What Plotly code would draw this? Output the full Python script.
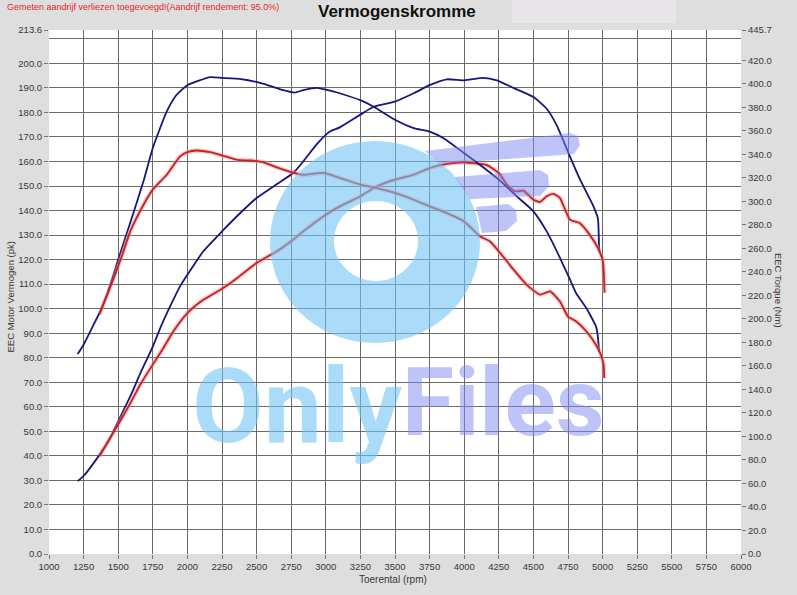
import numpy as np
import plotly.graph_objects as go

# ---------------- data ----------------
rpm_blue_torque = [1207, 1250, 1334, 1370, 1418, 1466, 1500, 1587, 1683, 1750,
                   1851, 1918, 2000, 2166, 2250, 2387, 2500, 2598, 2692, 2776,
                   2837, 2935, 3053, 3106, 3250, 3346, 3500, 3635, 3750, 3851,
                   4000, 4113, 4250, 4380, 4500, 4596, 4692, 4764, 4810, 4882,
                   4952, 4964, 4975]
torque_blue = [170.1, 178.0, 197.8, 206.4, 220.6, 237.5, 250.4, 281.7, 317.2, 345.3,
               376.4, 390.0, 398.7, 405.6, 405.0, 404.0, 401.5, 398.1, 394.6, 392.5,
               394.6, 396.5, 393.5, 391.7, 386.0, 380.4, 369.3, 362.2, 359.3, 353.7,
               340.9, 331.1, 318.4, 304.2, 291.5, 274.4, 251.9, 233.5, 221.6, 209.3,
               193.6, 186.5, 171.9]

rpm_red_torque = [1365, 1420, 1478, 1530, 1587, 1683, 1750, 1851, 1947, 2000,
                  2067, 2163, 2250, 2358, 2454, 2550, 2647, 2750, 2837, 2982,
                  3101, 3250, 3370, 3500, 3635, 3750, 3875, 4000, 4113, 4185,
                  4250, 4356, 4452, 4548, 4620, 4692, 4750, 4810, 4882, 4952,
                  4988, 5007, 5012]
torque_red = [204.1, 220.1, 237.9, 254.6, 274.4, 297.1, 309.9, 322.6, 338.2, 341.8,
              343.2, 341.8, 339.1, 335.3, 334.7, 333.2, 328.8, 324.9, 322.6, 324.1,
              319.9, 314.2, 311.3, 307.1, 301.3, 295.7, 290.0, 282.9, 270.2, 266.0,
              257.5, 242.0, 228.9, 220.6, 223.3, 214.7, 202.0, 197.8, 189.5, 178.0,
              169.4, 161.1, 149.6]

rpm_blue_power = [1207, 1250, 1358, 1442, 1500, 1582, 1666, 1750, 1803, 1875,
                  1947, 2000, 2115, 2250, 2382, 2500, 2647, 2764, 2837, 2931,
                  3029, 3101, 3250, 3346, 3500, 3635, 3750, 3875, 4000, 4137,
                  4236, 4356, 4500, 4596, 4668, 4750, 4834, 4930, 4966, 4974,
                  4978]
power_blue = [29.7, 31.8, 39.9, 47.3, 54.1, 63.6, 74.4, 84.5, 92.0, 100.9,
              109.1, 113.8, 123.4, 131.5, 139.0, 145.1, 150.8, 155.3, 160.0, 166.8,
              172.2, 173.9, 179.1, 182.3, 184.4, 187.8, 191.1, 193.5, 193.1, 194.1,
              193.1, 190.0, 186.3, 181.5, 174.8, 163.9, 153.0, 142.2, 136.8, 125.9,
              123.0]

rpm_red_power = [1365, 1442, 1500, 1582, 1666, 1750, 1827, 1899, 2000, 2115,
                 2250, 2346, 2500, 2647, 2750, 2837, 2982, 3101, 3250, 3370,
                 3500, 3635, 3750, 3875, 4000, 4065, 4161, 4250, 4308, 4368,
                 4428, 4500, 4548, 4596, 4644, 4692, 4764, 4834, 4906, 4966,
                 5002, 5010, 5014]
power_red = [39.9, 47.3, 52.8, 60.9, 69.7, 77.2, 84.0, 90.8, 98.2, 103.6,
             108.1, 111.9, 118.6, 123.4, 127.5, 131.5, 137.6, 141.7, 145.8, 149.9,
             152.6, 154.6, 157.3, 159.0, 159.7, 159.3, 158.6, 155.3, 150.6, 147.8,
             148.1, 144.4, 143.5, 145.8, 146.8, 145.1, 136.3, 134.9, 130.2, 124.8,
             119.3, 113.0, 106.5]

x_ticks = list(range(1000, 6001, 250))
left_ticks = [float(v) for v in range(0, 201, 10)] + [213.6]
right_ticks = [float(v) for v in range(0, 421, 20)] + [445.7]

title_text = "Vermogenskromme"
note_text = "Gemeten aandrijf verliezen toegevoegd!(Aandrijf rendement: 95.0%)"

# ---------------- figure ----------------
FONT = "Liberation Sans, Arial, sans-serif"
NAVY = "#16167e"
RED = "#c42222"
HALO = "rgba(240,140,140,0.45)"

fig = go.Figure()

def add_line(x, y, color, axis, halo=False):
    if halo:
        fig.add_trace(go.Scatter(x=x, y=y, mode="lines", yaxis=axis,
                                 line=dict(color=HALO, width=4.5, shape="spline", smoothing=0.5),
                                 hoverinfo="skip", showlegend=False))
    fig.add_trace(go.Scatter(x=x, y=y, mode="lines", yaxis=axis,
                             line=dict(color=color, width=1.8, shape="spline", smoothing=0.5),
                             showlegend=False))

add_line(rpm_blue_torque, torque_blue, NAVY, "y2")
add_line(rpm_blue_power, power_blue, NAVY, "y")
add_line(rpm_red_torque, torque_red, RED, "y2", halo=True)
add_line(rpm_red_power, power_red, RED, "y", halo=True)

GRID = "#6a6a6a"
TICKFONT = dict(family=FONT, size=9.5, color="#383838")

fig.update_layout(
    width=797, height=595,
    margin=dict(l=49, r=56, t=30, b=41),
    paper_bgcolor="#dedede",
    plot_bgcolor="#ffffff",
    font=dict(family=FONT, size=10, color="#383838"),
    title=dict(text="<b>" + title_text + "</b>", x=0.498, xref="container",
               y=1 - 11 / 595, yref="container", yanchor="middle", xanchor="center",
               font=dict(family=FONT, size=17, color="#111111")),
    xaxis=dict(range=[1000, 6000], tickvals=x_ticks, ticktext=[str(v) for v in x_ticks],
               showgrid=False, zeroline=False, showline=False,
               ticks="outside", ticklen=4, tickcolor="#777777", tickfont=TICKFONT,
               minor=dict(tickvals=x_ticks[1:-1], showgrid=True, gridcolor=GRID,
                          gridwidth=1, ticks="")),
    yaxis=dict(range=[0, 213.6], tickvals=left_ticks,
               ticktext=["%.1f" % v for v in left_ticks],
               showgrid=False, zeroline=False, showline=False,
               ticks="outside", ticklen=4, tickcolor="#777777", tickfont=TICKFONT,
               minor=dict(tickvals=[float(v) for v in range(10, 211, 10)], showgrid=True,
                          gridcolor=GRID, gridwidth=1, ticks="")),
    yaxis2=dict(range=[0, 445.7], overlaying="y", side="right", tickvals=right_ticks,
                ticktext=["%.1f" % v for v in right_ticks],
                showgrid=False, zeroline=False, showline=False,
                ticks="outside", ticklen=4, tickcolor="#777777", tickfont=TICKFONT),
)

# axis titles and notes
fig.add_annotation(text="Toerental (rpm)", xref="paper", yref="paper", x=0.497, y=-0.048,
                   showarrow=False, font=dict(family=FONT, size=10, color="#383838"),
                   xanchor="center", yanchor="middle")
fig.add_annotation(text="EEC Motor Vermogen (pk)", xref="paper", yref="paper", x=-0.056, y=0.49,
                   textangle=-90, showarrow=False,
                   font=dict(family=FONT, size=9.5, color="#383838"),
                   xanchor="center", yanchor="middle")
fig.add_annotation(text="EEC Torque (Nm)", xref="paper", yref="paper", x=1.0535, y=0.504,
                   textangle=90, showarrow=False,
                   font=dict(family=FONT, size=9.5, color="#383838"),
                   xanchor="center", yanchor="middle")
fig.add_annotation(text=note_text, xref="paper", yref="paper", x=(5 - 49) / 692, y=(554 - 7) / 524,
                   showarrow=False, font=dict(family=FONT, size=9, color="#e02828"),
                   xanchor="left", yanchor="middle")

# light box at top right
fig.add_shape(type="rect", xref="paper", yref="paper",
              x0=(512 - 49) / 692, x1=(676 - 49) / 692,
              y0=(554 - 23) / 524, y1=(554 + 1) / 524,
              line=dict(width=0), fillcolor="#e8e5e8", layer="below")

# ---------------- watermark (decoration) ----------------
def px2paper(px, py):
    return (px - 49) / 692, (554 - py) / 524

def ellipse_path(cx, cy, rx, ry, n=72):
    t = np.linspace(0, 2 * np.pi, n, endpoint=False)
    pts = [px2paper(cx + rx * np.cos(a), cy + ry * np.sin(a)) for a in t]
    return "M" + " L".join("%.5f,%.5f" % p for p in pts) + " Z"

ring = ellipse_path(375, 242, 105, 101) + " " + ellipse_path(376, 241, 42, 40)
fig.add_shape(type="path", xref="paper", yref="paper", path=ring, fillrule="evenodd",
              fillcolor="rgba(113,197,245,0.6)", line=dict(width=0), layer="above")

def poly_path(points):
    pts = [px2paper(x, y) for x, y in points]
    return "M" + " L".join("%.5f,%.5f" % p for p in pts) + " Z"

wings = [
    [(425, 151), (570, 133), (578, 136), (580, 145), (574, 154), (440, 164)],
    [(455, 177), (540, 170), (548, 175), (549, 186), (540, 196), (470, 199)],
    [(476, 207), (508, 204), (516, 210), (517, 221), (506, 231), (482, 233)],
]
for w in wings:
    fig.add_shape(type="path", xref="paper", yref="paper", path=poly_path(w),
                  fillcolor="rgba(128,138,242,0.5)", line=dict(width=0), layer="above")

fig.add_annotation(text="<b>Only</b>", xref="paper", yref="paper",
                   x=px2paper(297, 0)[0], y=px2paper(0, 406)[1], showarrow=False,
                   font=dict(family="Roboto, DejaVu Sans, sans-serif", size=104,
                             color="rgba(113,197,245,0.6)"),
                   xanchor="center", yanchor="middle")
fig.add_annotation(text="<b>Files</b>", xref="paper", yref="paper",
                   x=px2paper(503, 0)[0], y=px2paper(0, 402)[1], showarrow=False,
                   font=dict(family="Roboto, DejaVu Sans, sans-serif", size=95,
                             color="rgba(128,138,242,0.5)"),
                   xanchor="center", yanchor="middle")

fig.write_html("out.html", config={"displayModeBar": False},
               post_script="document.body.style.margin='0px';")
